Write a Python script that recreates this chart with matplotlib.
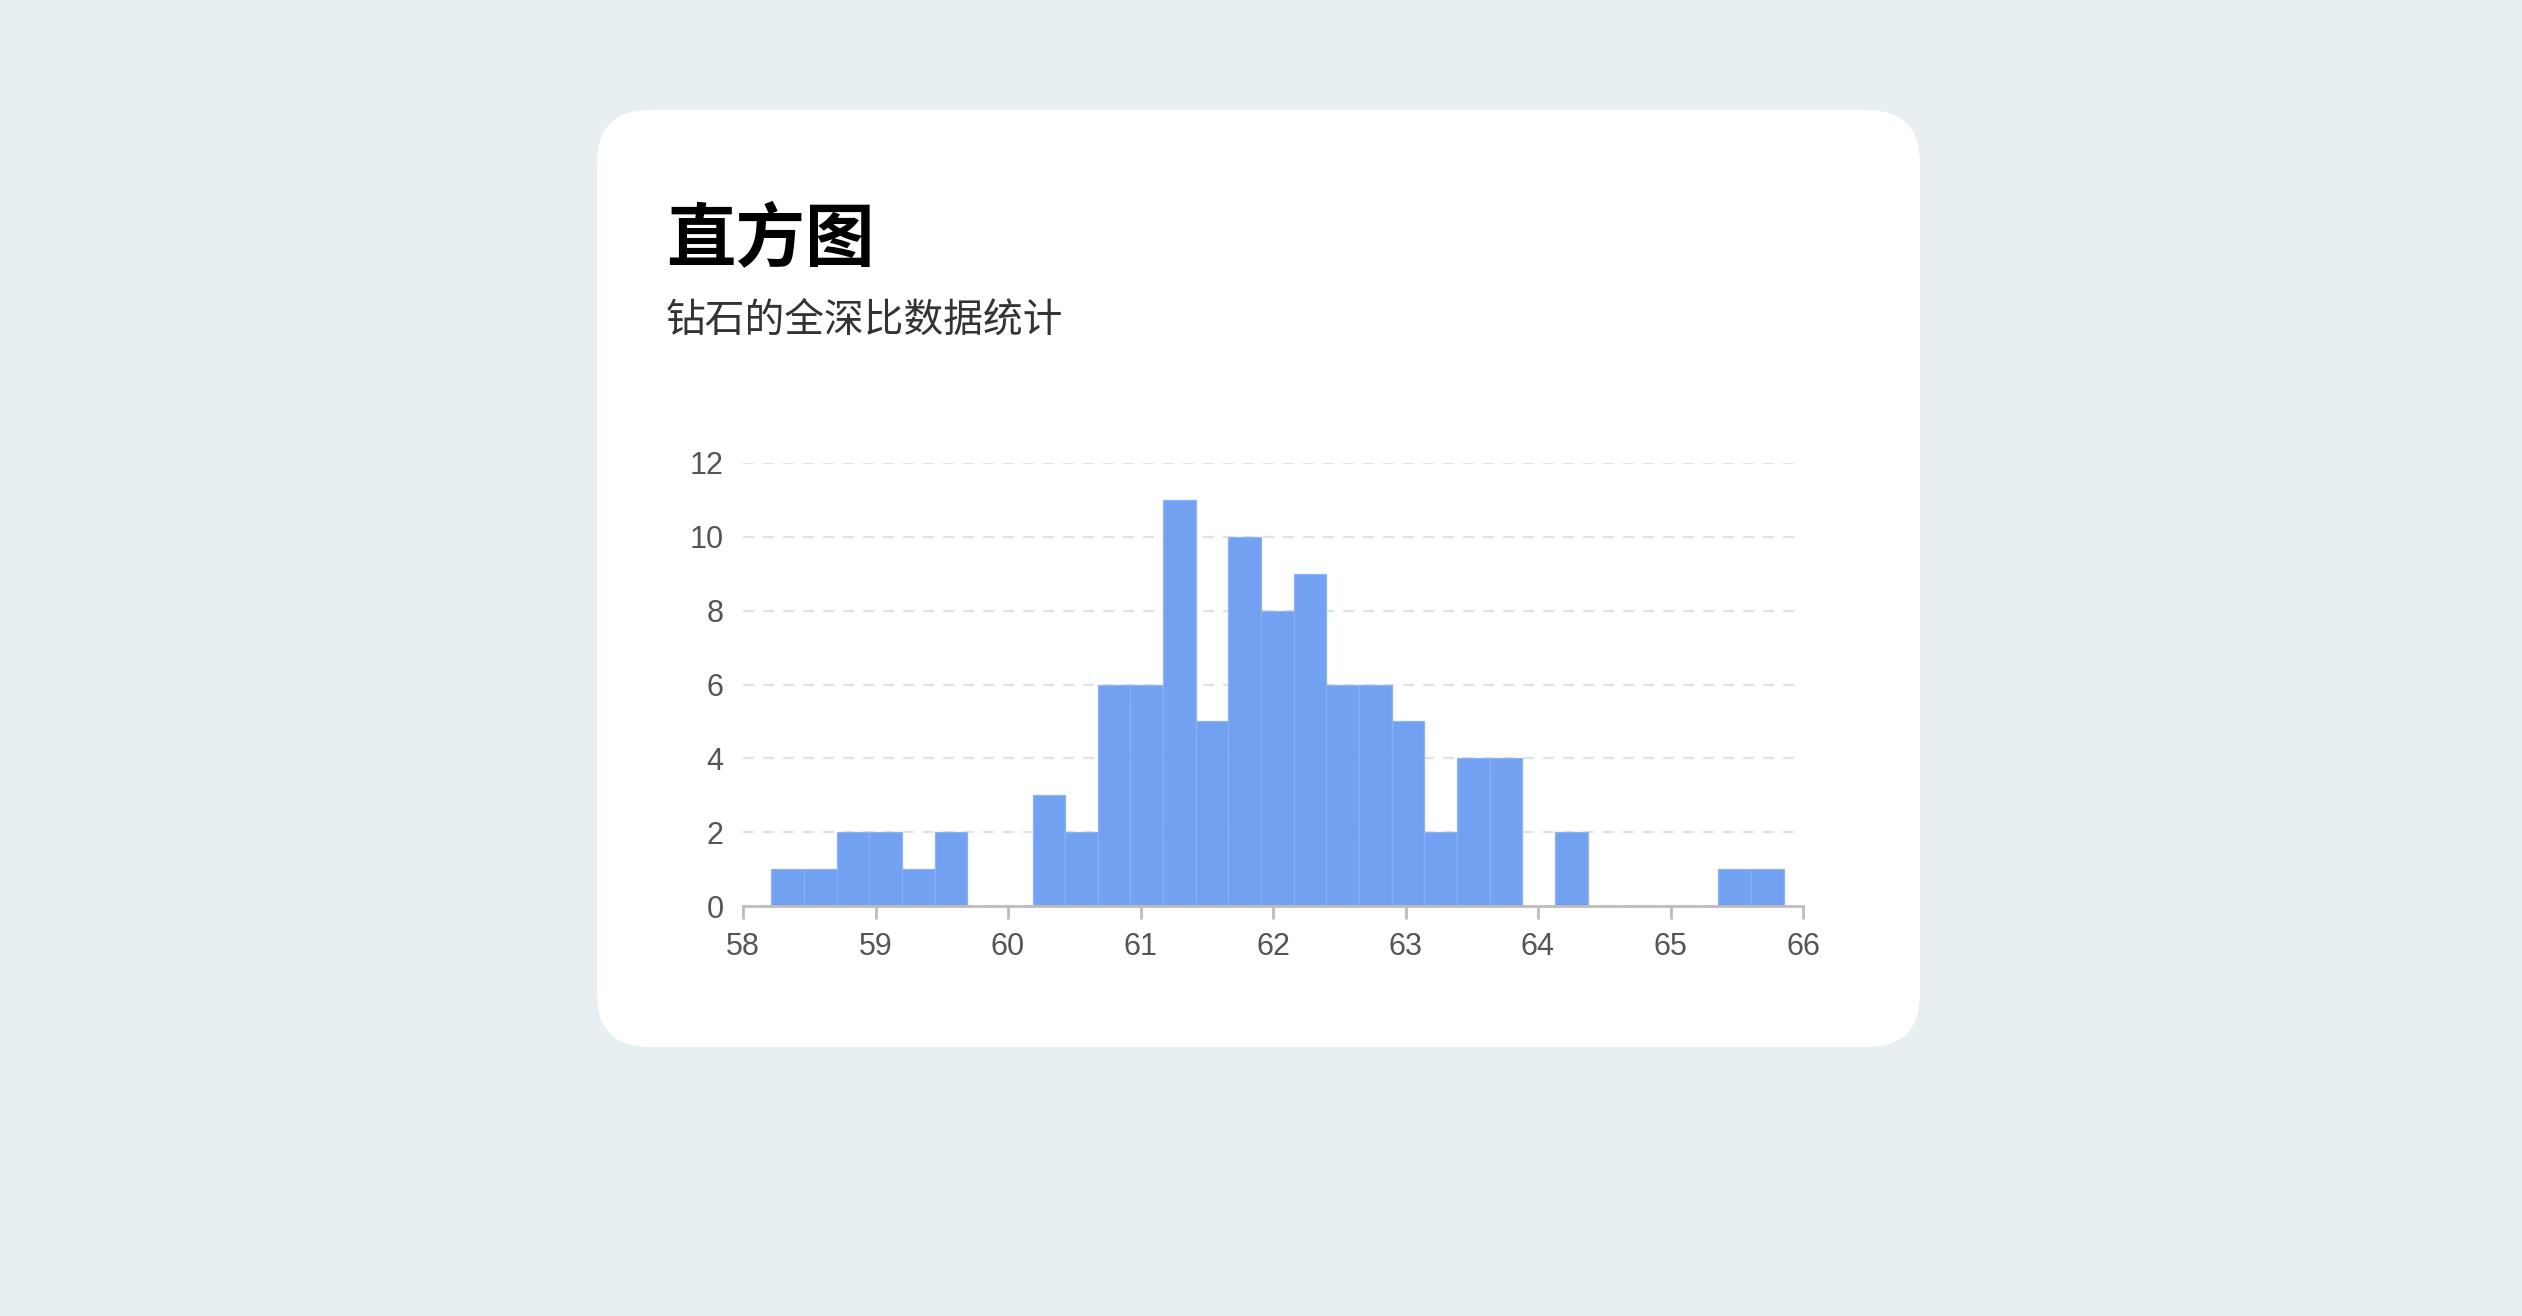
import numpy as np
import matplotlib.pyplot as plt
from matplotlib.patches import FancyBboxPatch

plt.rcParams['font.family'] = ['Noto Sans CJK SC', 'DejaVu Sans']

# 钻石全深比直方图数据
bin_start = 58.213
bin_width = 0.2465
counts = [1, 1, 2, 2, 1, 2, 0, 0, 3, 2, 6, 6, 11, 5, 10, 8, 9, 6, 6, 5,
          2, 4, 4, 0, 2, 0, 0, 0, 0, 1, 1]
x_ticks = [58, 59, 60, 61, 62, 63, 64, 65, 66]
y_ticks = [0, 2, 4, 6, 8, 10, 12]
title = '直方图'
subtitle = '钻石的全深比数据统计'

W, H = 2522, 1316
fig = plt.figure(figsize=(W / 100, H / 100), dpi=100)
fig.patch.set_facecolor('#e7eff2')

# 白色圆角卡片
card = FancyBboxPatch((597 / W, (H - 1047) / H), (1920 - 597) / W, (1047 - 110) / H,
                      boxstyle='round,pad=0,rounding_size=0.021',
                      transform=fig.transFigure, facecolor='white', edgecolor='none',
                      mutation_aspect=W / H, zorder=0)
fig.patches.append(card)

fig.text(666 / W, 1 - 240 / H, title, fontsize=50, fontweight='bold',
         color='#000000', va='center', ha='left')
fig.text(666 / W, 1 - 322 / H, subtitle, fontsize=28.6, color='#333333',
         va='center', ha='left')

ax = fig.add_axes([743 / W, (H - 906) / H, (1803 - 743) / W, (906 - 463) / H])
ax.set_facecolor('none')
ax.set_zorder(2)

n = len(counts)
edges = bin_start + bin_width * np.arange(n + 1)
centers = (edges[:-1] + edges[1:]) / 2
ax.hist(centers, bins=edges, weights=counts, color='#6c9df1', alpha=0.96,
        edgecolor='#8db2f4', linewidth=0.9, zorder=3)

ax.set_xlim(58, 66)
ax.set_ylim(0, 12)
ax.set_xticks(x_ticks)
ax.set_yticks(y_ticks)
ax.grid(axis='y', color='#e3e3e3', linestyle=(0, (5, 4)), linewidth=1.6, zorder=1)
ax.grid(axis='x', visible=False)
ax.set_axisbelow(True)

for s in ['top', 'right', 'left']:
    ax.spines[s].set_visible(False)
ax.spines['bottom'].set_color('#bdbdbd')
ax.spines['bottom'].set_linewidth(2)
ax.spines['bottom'].set_zorder(4)

ax.tick_params(axis='x', length=9, width=2, color='#bdbdbd', pad=9.5,
               labelsize=22, labelcolor='#555555')
ax.tick_params(axis='y', length=0, pad=14, labelsize=22, labelcolor='#555555')
for lab in ax.get_xticklabels() + ax.get_yticklabels():
    lab.set_fontfamily(['Liberation Sans', 'DejaVu Sans'])

fig.savefig('out.png', dpi=100, facecolor=fig.get_facecolor())
